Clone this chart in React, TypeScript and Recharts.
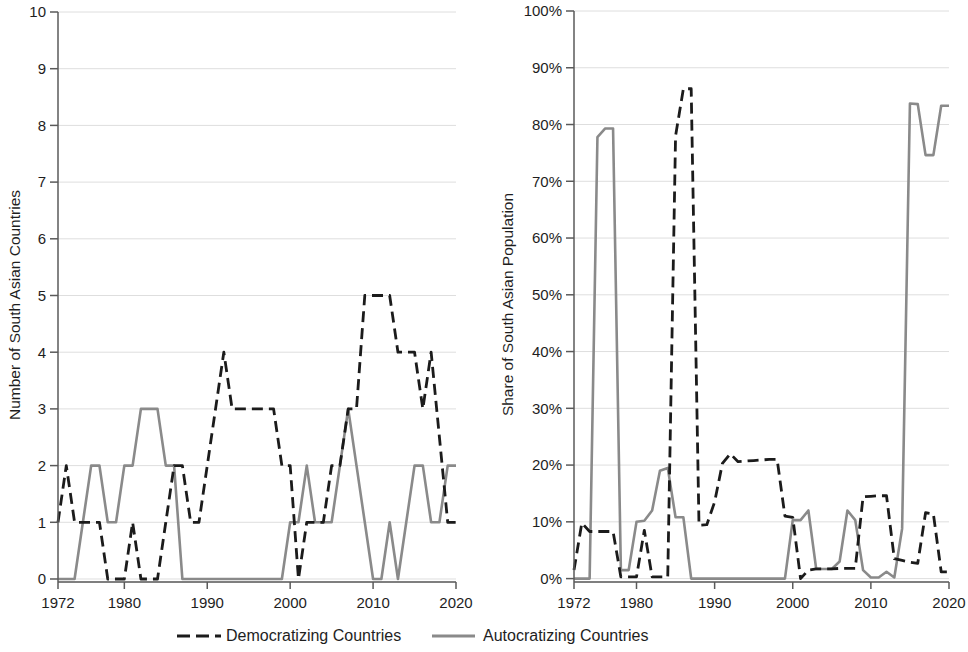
import React from "react";
import { LineChart, Line, XAxis, YAxis, CartesianGrid, Label } from "recharts";

const years = [
  1972, 1973, 1974, 1975, 1976, 1977, 1978, 1979, 1980, 1981,
  1982, 1983, 1984, 1985, 1986, 1987, 1988, 1989, 1990, 1991,
  1992, 1993, 1994, 1995, 1996, 1997, 1998, 1999, 2000, 2001,
  2002, 2003, 2004, 2005, 2006, 2007, 2008, 2009, 2010, 2011,
  2012, 2013, 2014, 2015, 2016, 2017, 2018, 2019, 2020,
];

// Left panel: number of countries
const democratizingCount = [
  1, 2, 1, 1, 1, 1, 0, 0, 0, 1,
  0, 0, 0, 1, 2, 2, 1, 1, 2, 3,
  4, 3, 3, 3, 3, 3, 3, 2, 2, 0,
  1, 1, 1, 2, 2, 3, 3, 5, 5, 5,
  5, 4, 4, 4, 3, 4, 2.5, 1, 1,
];
const autocratizingCount = [
  0, 0, 0, 1, 2, 2, 1, 1, 2, 2,
  3, 3, 3, 2, 2, 0, 0, 0, 0, 0,
  0, 0, 0, 0, 0, 0, 0, 0, 1, 1,
  2, 1, 1, 1, 2, 3, 2, 1, 0, 0,
  1, 0, 1, 2, 2, 1, 1, 2, 2,
];

// Right panel: share of population (%)
const democratizingShare = [
  1.5, 9.8, 8.3, 8.3, 8.3, 8.3, 0.3, 0.3, 0.3, 8.5,
  0.3, 0.3, 0.3, 78, 86.3, 86.3, 9.4, 9.5, 13.5, 20.3,
  22, 20.6, 20.7, 20.8, 20.9, 21, 21, 11, 10.8, 0,
  1.5, 1.7, 1.7, 1.7, 1.8, 1.8, 1.8, 14.4, 14.5, 14.6,
  14.6, 3.5, 3.2, 2.9, 2.7, 11.6, 11.4, 1.2, 1.2,
];
const autocratizingShare = [
  0, 0, 0, 77.8, 79.3, 79.3, 1.5, 1.5, 10, 10.2,
  12, 19, 19.5, 10.8, 10.8, 0, 0, 0, 0, 0,
  0, 0, 0, 0, 0, 0, 0, 0, 10.3, 10.3,
  12, 1.7, 1.7, 1.7, 3, 12, 10.3, 1.5, 0.2, 0.2,
  1.2, 0.2, 8.8, 83.7, 83.6, 74.6, 74.6, 83.3, 83.3,
];

const xTicks = [1972, 1980, 1990, 2000, 2010, 2020];
const countTicks = [0, 1, 2, 3, 4, 5, 6, 7, 8, 9, 10];
const shareTicks = [0, 10, 20, 30, 40, 50, 60, 70, 80, 90, 100];

const seriesNames = ["Democratizing Countries", "Autocratizing Countries"];
const leftTitle = "Number of South Asian Countries";
const rightTitle = "Share of South Asian Population";

const countData = years.map((y, i) => ({
  year: y,
  dem: democratizingCount[i],
  aut: autocratizingCount[i],
}));
const shareData = years.map((y, i) => ({
  year: y,
  dem: democratizingShare[i],
  aut: autocratizingShare[i],
}));

const FONT = "'Liberation Sans', Arial, Helvetica, sans-serif";
const TEXT = "#1e1e1e";
const AXIS = "#5a5a5a";
const GRID = "#dedede";
const DEM = "#1b1b1b";
const AUT = "#8a8a8a";
const DASH = "11 6";

const tickStyle = { fontSize: 15, fill: TEXT, fontFamily: FONT };

function makeTitle(text: string, offsetX: number) {
  return (props: any) => {
    const vb = props.viewBox || {};
    const x = (vb.x || 0) + offsetX;
    const y = (vb.y || 0) + (vb.height || 0) / 2 + 8;
    return (
      <text
        x={x}
        y={y}
        transform={`rotate(-90 ${x} ${y})`}
        textAnchor="middle"
        dominantBaseline="central"
        fontSize={15.5}
        fontFamily={FONT}
        fill={TEXT}
      >
        {text}
      </text>
    );
  };
}

function Panel(props: {
  data: any[];
  width: number;
  yWidth: number;
  marginTop: number;
  marginRight: number;
  domain: [number, number];
  ticks: number[];
  fmt?: (v: number) => string;
  title: string;
  titleX: number;
}) {
  const { data, width, yWidth, marginTop, marginRight, domain, ticks, fmt, title, titleX } = props;
  return (
    <LineChart
      width={width}
      height={612}
      data={data}
      margin={{ top: marginTop, right: marginRight, left: 0, bottom: 0 }}
    >
      <CartesianGrid horizontal={true} vertical={false} stroke={GRID} strokeWidth={1} />
      <XAxis
        dataKey="year"
        type="number"
        domain={[1972, 2020]}
        ticks={xTicks}
        height={30}
        tickSize={7}
        tickMargin={8}
        tick={tickStyle}
        stroke={AXIS}
        axisLine={{ stroke: AXIS, strokeWidth: 1.5 }}
        tickLine={{ stroke: AXIS, strokeWidth: 1.5 }}
        interval={0}
      />
      <YAxis
        type="number"
        domain={domain}
        ticks={ticks}
        allowDataOverflow={true}
        width={yWidth}
        tickSize={8}
        tickMargin={4}
        tick={tickStyle}
        tickFormatter={fmt}
        axisLine={{ stroke: AXIS, strokeWidth: 1.5 }}
        tickLine={{ stroke: AXIS, strokeWidth: 1.5 }}
        interval={0}
      >
        <Label content={makeTitle(title, titleX)} />
      </YAxis>
      <Line
        type="linear"
        dataKey="aut"
        stroke={AUT}
        strokeWidth={2.6}
        dot={false}
        isAnimationActive={false}
        strokeLinejoin="round"
      />
      <Line
        type="linear"
        dataKey="dem"
        stroke={DEM}
        strokeWidth={2.8}
        strokeDasharray={DASH}
        dot={false}
        isAnimationActive={false}
        strokeLinejoin="round"
      />
    </LineChart>
  );
}

export default function App() {
  return (
    <div
      style={{
        position: "absolute",
        left: 0,
        top: 0,
        width: 968,
        height: 652,
        background: "#fff",
        fontFamily: FONT,
        overflow: "hidden",
      }}
    >
      <div style={{ position: "absolute", left: 0, top: 0 }}>
        <Panel
          data={countData}
          width={490}
          yWidth={58}
          marginTop={12}
          marginRight={34}
          domain={[-0.053, 10]}
          ticks={countTicks}
          title={leftTitle}
          titleX={14}
        />
      </div>
      <div style={{ position: "absolute", left: 490, top: 0 }}>
        <Panel
          data={shareData}
          width={478}
          yWidth={84}
          marginTop={11}
          marginRight={19}
          domain={[-0.6, 100]}
          ticks={shareTicks}
          fmt={(v: number) => `${v}%`}
          title={rightTitle}
          titleX={17}
        />
      </div>
      {/* Legend */}
      <svg
        style={{ position: "absolute", left: 176, top: 630 }}
        width={46}
        height={12}
      >
        <line x1={1} y1={6} x2={45} y2={6} stroke={DEM} strokeWidth={3} strokeDasharray="13 6" />
      </svg>
      <div
        style={{
          position: "absolute",
          left: 226,
          top: 625,
          fontSize: 16,
          lineHeight: "22px",
          color: TEXT,
          whiteSpace: "nowrap",
        }}
      >
        {seriesNames[0]}
      </div>
      <svg
        style={{ position: "absolute", left: 431, top: 630 }}
        width={46}
        height={12}
      >
        <line x1={1} y1={6} x2={44} y2={6} stroke={AUT} strokeWidth={3} />
      </svg>
      <div
        style={{
          position: "absolute",
          left: 483,
          top: 625,
          fontSize: 16,
          lineHeight: "22px",
          color: TEXT,
          whiteSpace: "nowrap",
        }}
      >
        {seriesNames[1]}
      </div>
    </div>
  );
}
